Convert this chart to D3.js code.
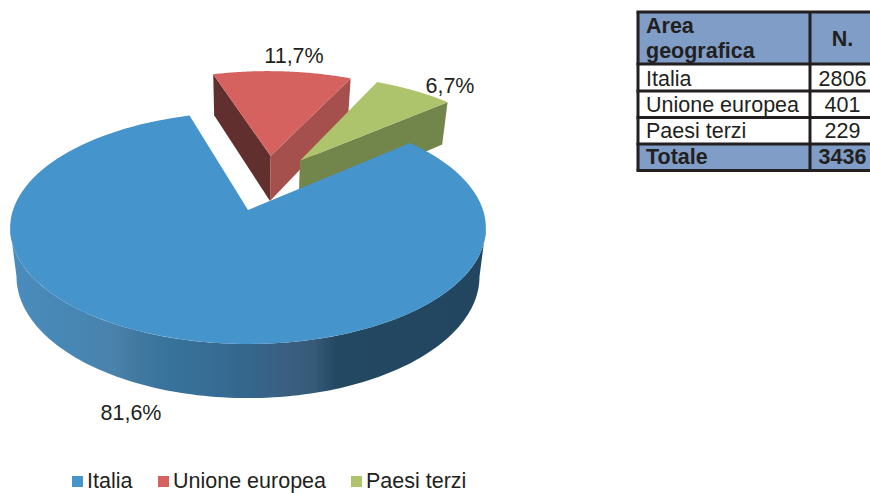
<!DOCTYPE html>
<html><head><meta charset="utf-8">
<script src="https://cdn.jsdelivr.net/npm/d3@7"></script>
<style>html,body{margin:0;padding:0;background:#fff;overflow:hidden}svg{display:block}text{font-family:"Liberation Sans",Arial,sans-serif;fill:#231f20}</style>
</head><body><svg id="c" width="870" height="493"></svg>
<script>
const categories = ["Italia", "Unione europea", "Paesi terzi"];
const counts = [2806, 401, 229];
const percentLabels = ["81,6%", "11,7%", "6,7%"];
const totalLabel = "Totale";
const totalCount = 3436;
const headers = ["Area", "geografica", "N."];
const topColors = ["#4694cc", "#d5625f", "#adc46c"];
const faceColors = [null, ["#61302e", "#a5504d"], [null, "#72854a"]];

const svg = d3.select("#c");
const rad = Math.PI / 180;

// perspective disc -> screen
const k = 0.155;
const xTop = d3.scaleLinear().domain([-1, 1]).range([248 - 235, 248 + 235]);
const yTop = d3.scaleLinear().domain([-1, 1]).range([210 + 113.2, 210 - 113.2]);
const xBot = d3.scaleLinear().domain([-1, 1]).range([248 - 228.7, 248 + 228.7]);
const yBot = d3.scaleLinear().domain([-1, 1]).range([257.6 + 118.7, 257.6 - 118.7]);
const project = (u, v, sx, sy) => { const w = 1 + k * v; return [sx(u / w), sy(v / w)]; };

const pie = d3.pie().sort(null).startAngle(49.4 * rad).endAngle(409.4 * rad);
const arcs = pie(counts);
const explode = [[0, 0], [0.104, 0.515], [0.237, 0.467]];

const disc = (i, t, r = 1) => [explode[i][0] + r * Math.sin(t), explode[i][1] + r * Math.cos(t)];
const P = (p, plane) => plane === "top" ? project(p[0], p[1], xTop, yTop) : project(p[0], p[1], xBot, yBot);
const line = d3.line();
const arcPts = (i, a0, a1, plane) => d3.range(0, 121).map(j => P(disc(i, a0 + (a1 - a0) * j / 120), plane));

// radial side face
function radial(i, t, color) {
  const a = P(explode[i], "top"), b = P(disc(i, t), "top"), c = P(disc(i, t), "bot"), d = P(explode[i], "bot");
  svg.append("path").attr("d", line([a, b, c, d]) + "Z").attr("fill", color);
}
// top face
function topFace(i) {
  const pts = [P(explode[i], "top"), ...arcPts(i, arcs[i].startAngle, arcs[i].endAngle, "top")];
  svg.append("path").attr("d", line(pts) + "Z").attr("fill", topColors[i]);
}

// gradient of blue outer wall
const wallStops = [[0, "#4a8cbc"], [0.12, "#4787b5"], [0.22, "#4a82ac"], [0.27, "#41789f"], [0.33, "#37739c"], [0.42, "#366d95"],
  [0.5, "#35668c"], [0.58, "#3a5f80"], [0.64, "#365a78"], [0.685, "#234862"], [1, "#234660"]];
const grad = svg.append("defs").append("linearGradient").attr("id", "wall")
  .attr("gradientUnits", "userSpaceOnUse").attr("x1", 10).attr("x2", 486).attr("y1", 0).attr("y2", 0);
wallStops.forEach(s => grad.append("stop").attr("offset", s[0]).attr("stop-color", s[1]));

// red
radial(1, arcs[1].startAngle, faceColors[1][0]);
radial(1, arcs[1].endAngle, faceColors[1][1]);
topFace(1);
// green
radial(2, arcs[2].endAngle, faceColors[2][1]);
topFace(2);
// blue outer wall and top
const t0 = (90 + Math.asin(k) / rad) * rad, t1 = (270 - Math.asin(k) / rad) * rad;
const wall = [...arcPts(0, t0, t1, "top"), ...arcPts(0, t1, t0, "bot")];
svg.append("path").attr("d", line(wall) + "Z").attr("fill", "url(#wall)");
topFace(0);

// slice labels
const labelPos = [[131, 420], [294, 63], [450, 93]];
percentLabels.forEach((t, i) => svg.append("text").attr("x", labelPos[i][0]).attr("y", labelPos[i][1])
  .attr("text-anchor", "middle").attr("font-size", 21.5).text(t));

// legend
const legendX = [72, 158, 351];
categories.forEach((c, i) => {
  svg.append("rect").attr("x", legendX[i]).attr("y", 476).attr("width", 11).attr("height", 11).attr("fill", topColors[i]);
  svg.append("text").attr("x", legendX[i] + 15).attr("y", 488).attr("font-size", 21.5).text(c);
});

// table
const ink = "#231f20", head = "#7f9dc6";
const xL = 638, xM = 810, xR = 880;
const rowY = [12, 64, 91, 117.5, 144, 170.5];
svg.append("rect").attr("x", xL).attr("y", rowY[0]).attr("width", xR - xL).attr("height", rowY[1] - rowY[0]).attr("fill", head);
svg.append("rect").attr("x", xL).attr("y", rowY[4]).attr("width", xR - xL).attr("height", rowY[5] - rowY[4]).attr("fill", head);
rowY.forEach(y => svg.append("line").attr("x1", xL - 1.5).attr("x2", xR).attr("y1", y).attr("y2", y)
  .attr("stroke", ink).attr("stroke-width", 3));
[xL, xM].forEach(x => svg.append("line").attr("x1", x).attr("x2", x).attr("y1", rowY[0]).attr("y2", rowY[5])
  .attr("stroke", ink).attr("stroke-width", 3));
const tx = 646, nx = 842.5, fs = 21.5;
const T = (s, x, y, bold, anchor) => svg.append("text").attr("x", x).attr("y", y).attr("font-size", fs)
  .attr("font-weight", bold ? 700 : 400).attr("text-anchor", anchor || "start").text(s);
T(headers[0], tx, 33, true); T(headers[1], tx, 58, true); T(headers[2], nx, 46, true, "middle");
const rowBase = [86, 112, 138];
categories.forEach((c, i) => { T(c, tx, rowBase[i]); T(counts[i], nx, rowBase[i], false, "middle"); });
T(totalLabel, tx, 164, true); T(totalCount, nx, 164, true, "middle");
</script></body></html>
